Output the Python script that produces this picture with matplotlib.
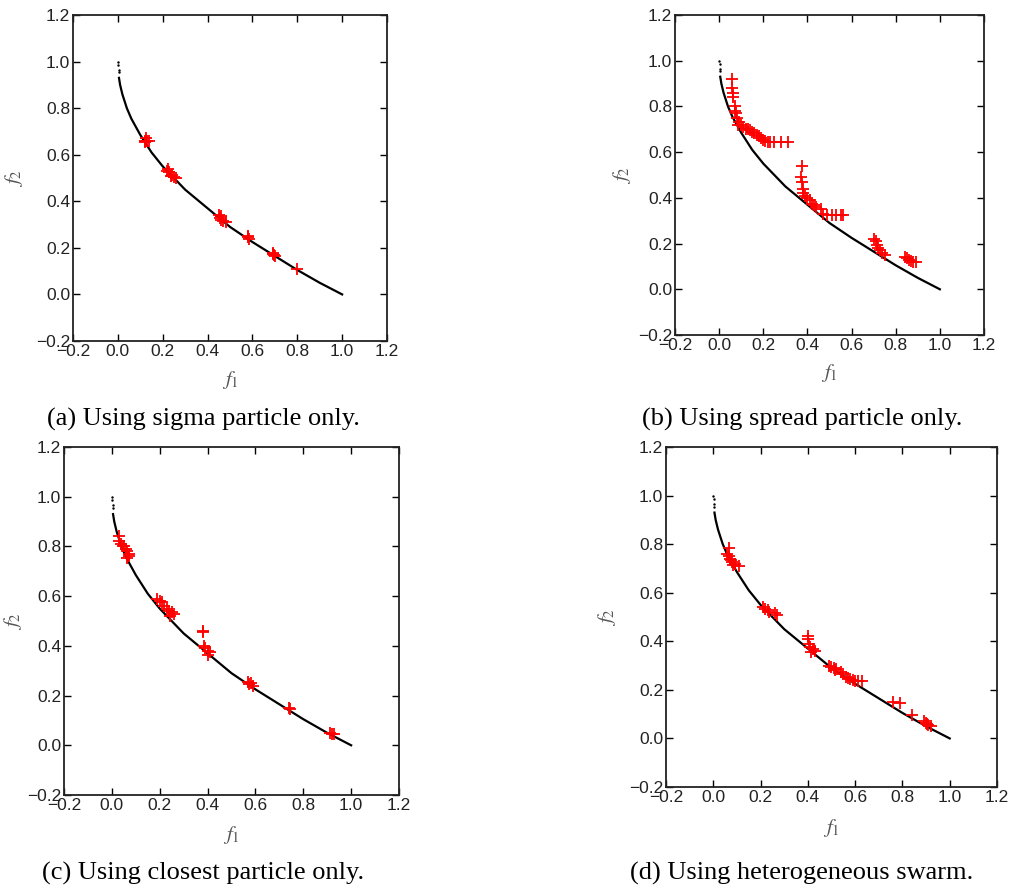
import numpy as np
import matplotlib.pyplot as plt
import matplotlib as mpl

mpl.rcParams['font.family'] = 'Liberation Sans'
mpl.rcParams['mathtext.fontset'] = 'stix'

# Pareto front
front_f1 = [0.005, 0.01, 0.02, 0.04, 0.06, 0.1, 0.15, 0.2, 0.3, 0.4, 0.5, 0.6, 0.7, 0.8, 0.9, 1.0]
front_f2 = [0.93, 0.90, 0.86, 0.80, 0.755, 0.685, 0.61, 0.55, 0.45, 0.37, 0.29, 0.225, 0.165, 0.105, 0.05, 0.0]
top_f1 = [0.0, 0.002, 0.003, 0.004]
top_f2 = [1.0, 0.985, 0.965, 0.955]

# (a) sigma particle
a_f1 = [0.12, 0.13, 0.125, 0.14, 0.12,
        0.22, 0.225, 0.23, 0.24, 0.25, 0.26, 0.235,
        0.45, 0.455, 0.46, 0.47, 0.48, 0.46,
        0.58, 0.585, 0.58,
        0.69, 0.695, 0.70, 0.69,
        0.80]
a_f2 = [0.66, 0.66, 0.67, 0.66, 0.655,
        0.53, 0.54, 0.525, 0.515, 0.505, 0.50, 0.51,
        0.34, 0.33, 0.32, 0.315, 0.31, 0.335,
        0.245, 0.24, 0.25,
        0.175, 0.17, 0.165, 0.18,
        0.11]

# (b) spread particle
b_f1 = [0.06, 0.06, 0.065, 0.065, 0.07, 0.07, 0.075, 0.08, 0.09, 0.085, 0.10, 0.11, 0.12, 0.13,
        0.14, 0.15, 0.16, 0.17, 0.18, 0.19, 0.20, 0.21, 0.22, 0.23, 0.25, 0.28, 0.31,
        0.375, 0.37, 0.375, 0.38, 0.38, 0.39, 0.40, 0.41, 0.42, 0.43, 0.44, 0.46, 0.47,
        0.49, 0.51, 0.53, 0.55, 0.56,
        0.70, 0.71, 0.715, 0.72, 0.73, 0.74, 0.75,
        0.84, 0.85, 0.86, 0.87, 0.88, 0.89]
b_f2 = [0.92, 0.88, 0.86, 0.84, 0.80, 0.78, 0.77, 0.75, 0.73, 0.72, 0.72, 0.71, 0.70, 0.70,
        0.695, 0.69, 0.685, 0.675, 0.67, 0.66, 0.655, 0.65, 0.645, 0.645, 0.645, 0.645, 0.645,
        0.54, 0.49, 0.47, 0.44, 0.42, 0.41, 0.40, 0.39, 0.375, 0.37, 0.36, 0.35, 0.33,
        0.325, 0.325, 0.325, 0.325, 0.325,
        0.22, 0.21, 0.195, 0.18, 0.17, 0.16, 0.15,
        0.14, 0.135, 0.13, 0.125, 0.12, 0.118]

# (c) closest particle
c_f1 = [0.03, 0.03, 0.04, 0.045, 0.05, 0.06, 0.065, 0.07, 0.07, 0.065,
        0.19, 0.20, 0.21, 0.22, 0.23, 0.24, 0.25, 0.26, 0.245,
        0.38, 0.38, 0.385, 0.39, 0.40, 0.41, 0.40,
        0.57, 0.58, 0.59, 0.575,
        0.74, 0.745,
        0.91, 0.92, 0.93]
c_f2 = [0.84, 0.82, 0.81, 0.80, 0.80, 0.79, 0.78, 0.77, 0.76, 0.755,
        0.59, 0.58, 0.575, 0.56, 0.55, 0.54, 0.535, 0.53, 0.52,
        0.46, 0.455, 0.40, 0.39, 0.38, 0.375, 0.365,
        0.255, 0.25, 0.24, 0.245,
        0.15, 0.145,
        0.05, 0.045, 0.045]

# (d) heterogeneous swarm
d_f1 = [0.065, 0.06, 0.065, 0.07, 0.075, 0.08, 0.09, 0.11, 0.085,
        0.21, 0.22, 0.23, 0.235, 0.26, 0.27,
        0.40, 0.40, 0.405, 0.41, 0.42, 0.43, 0.415,
        0.49, 0.50, 0.51, 0.52, 0.515, 0.54, 0.55, 0.56, 0.57, 0.58, 0.59, 0.60, 0.61, 0.63,
        0.76, 0.79, 0.84,
        0.89, 0.90, 0.905, 0.91, 0.92]
d_f2 = [0.785, 0.76, 0.75, 0.74, 0.735, 0.725, 0.72, 0.71, 0.715,
        0.54, 0.535, 0.53, 0.52, 0.515, 0.51,
        0.42, 0.41, 0.39, 0.375, 0.37, 0.36, 0.355,
        0.30, 0.295, 0.29, 0.285, 0.28, 0.275, 0.265, 0.255, 0.25, 0.245, 0.24, 0.235, 0.235, 0.235,
        0.15, 0.145, 0.095,
        0.07, 0.065, 0.06, 0.055, 0.05]

captions = ['(a) Using sigma particle only.', '(b) Using spread particle only.',
            '(c) Using closest particle only.', '(d) Using heterogeneous swarm.']

W, H = 1012, 890
fig = plt.figure(figsize=(W / 100, H / 100), dpi=100)

# axes boxes in pixels: left, top, right, bottom
boxes = [(73, 15, 387, 341), (675, 15, 984, 335), (64, 447, 399, 795), (666, 447, 997, 787)]
cap_pos = [(203, 426), (802, 426), (203, 880), (802, 880)]
xlab_y = [380, 373, 835, 828]   # centre of f1 label, pixels from top
ylab_x = [14, 622, 13, 607]     # centre of f2 label, pixels from left
data = [(a_f1, a_f2), (b_f1, b_f2), (c_f1, c_f2), (d_f1, d_f2)]

fmt = mpl.ticker.FuncFormatter(lambda v, p: ('%.1f' % v).replace('-', '\u2212'))

for i, ((l, t, r, b), (xs, ys), cap, (cx, cy)) in enumerate(zip(boxes, data, captions, cap_pos)):
    ax = fig.add_axes([l / W, 1 - b / H, (r - l) / W, (b - t) / H])
    ax.plot(front_f1, front_f2, color='k', lw=1.6, zorder=2)
    ax.plot(top_f1, top_f2, '.', color='k', markersize=1.5)
    ax.plot(xs, ys, '+', color='red', markersize=9, mew=1.3, zorder=3)
    ax.set_xlim(-0.2, 1.2)
    ax.set_ylim(-0.2, 1.2)
    ax.set_xticks(np.arange(-0.2, 1.21, 0.2))
    ax.set_yticks(np.arange(-0.2, 1.21, 0.2))
    ax.xaxis.set_major_formatter(fmt)
    ax.yaxis.set_major_formatter(fmt)
    ax.tick_params(direction='in', length=5, width=1, top=True, right=True,
                   labelsize=12.5, labelcolor='#222222', pad=2)
    for s in ax.spines.values():
        s.set_linewidth(1.3)
        s.set_color('#222222')
    ax.set_xlabel(r'$f_1$', fontsize=15, color='#555555', va='center')
    ax.set_ylabel(r'$f_2$', fontsize=15, color='#555555', va='center')
    ax.xaxis.set_label_coords((l + r) / 2 / W, 1 - xlab_y[i] / H, transform=fig.transFigure)
    ax.yaxis.set_label_coords(ylab_x[i] / W, 1 - (t + b) / 2 / H, transform=fig.transFigure)
    fig.text(cx / W, 1 - cy / H, cap, ha='center', va='baseline',
             fontsize=19, family='Liberation Serif')

fig.savefig('out.png', dpi=100)
